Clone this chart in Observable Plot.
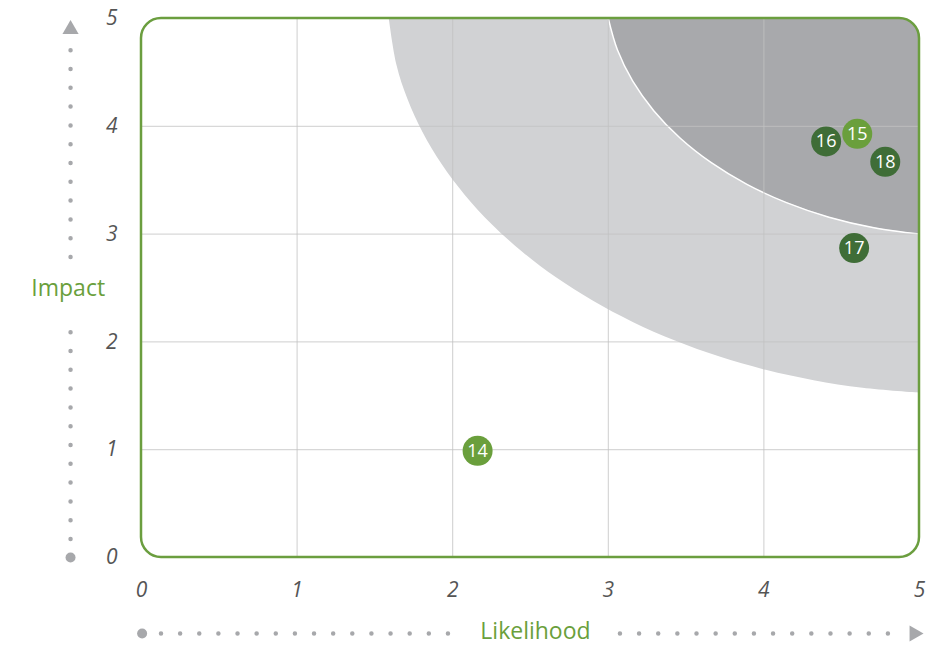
<!DOCTYPE html>
<html>
<head>
<meta charset="utf-8">
<script src="https://cdn.jsdelivr.net/npm/d3@7"></script>
<script src="https://cdn.jsdelivr.net/npm/@observablehq/plot@0.6"></script>
<style>
  html, body { margin: 0; padding: 0; background: #ffffff; }
  #chart { width: 941px; height: 645px; }
</style>
</head>
<body>
<div id="chart"></div>
<script>
// ---- Data ----
const riskIds = ["14", "15", "16", "17", "18"];
const likelihood = [2.16, 4.60, 4.40, 4.58, 4.78];
const impact = [0.99, 3.93, 3.86, 2.87, 3.67];
const tone = ["light", "light", "dark", "dark", "dark"];

// Zone boundaries
const outerZoneX = [1.592, 1.642, 1.712, 1.809, 1.932, 2.081, 2.254, 2.450, 2.667, 2.905, 3.160, 3.432, 3.718, 4.015, 4.323, 4.637, 5.0];
const outerZoneY = [5.0, 4.564, 4.250, 3.942, 3.645, 3.359, 3.087, 2.832, 2.594, 2.377, 2.181, 2.008, 1.859, 1.736, 1.639, 1.569, 1.524];
const innerZoneX = [3.0, 3.059, 3.157, 3.292, 3.461, 3.662, 3.891, 4.145, 4.418, 4.707, 5.0];
const innerZoneY = [5.0, 4.707, 4.418, 4.145, 3.891, 3.662, 3.461, 3.292, 3.157, 3.059, 3.0];

const tickValues = [0, 1, 2, 3, 4, 5];
const gridValues = [1, 2, 3, 4];
const xTitle = "Likelihood";
const yTitle = "Impact";

// ---- Tables built from the arrays ----
const points = riskIds.map((id, i) => ({id, likelihood: likelihood[i], impact: impact[i], tone: tone[i]}));
const outerZone = outerZoneX.map((x, i) => ({x, y: outerZoneY[i]}));
const innerZone = innerZoneX.map((x, i) => ({x, y: innerZoneY[i]}));

const GREEN = "#6a9f3c";
const DARKGREEN = "#3f6d37";
const GREY = "#a7a8ab";
const fmt = d3.format("d");

const plot = Plot.plot({
  width: 941,
  height: 645,
  marginLeft: 141,
  marginRight: 22,
  marginTop: 18,
  marginBottom: 88,
  x: {domain: [0, 5]},
  y: {domain: [0, 5]},
  color: {domain: ["light", "dark"], range: [GREEN, DARKGREEN]},
  style: {fontFamily: "'Open Sans', sans-serif", color: "#4d4d4d", background: "white", overflow: "visible"},
  marks: [
    Plot.areaY(outerZone, {x: "x", y1: "y", y2: 5, fill: "#d1d2d4", curve: "catmull-rom"}),
    Plot.areaY(innerZone, {x: "x", y1: "y", y2: 5, fill: "#a8a9ac", curve: "catmull-rom"}),
    Plot.line(innerZone, {x: "x", y: "y", stroke: "white", strokeWidth: 1.5, curve: "catmull-rom"}),
    Plot.gridX({ticks: gridValues, stroke: "#c2c2c2", strokeOpacity: 0.8, strokeWidth: 1}),
    Plot.gridY({ticks: gridValues, stroke: "#c2c2c2", strokeOpacity: 0.8, strokeWidth: 1}),
    Plot.rect([0], {x1: 0, x2: 5, y1: 0, y2: 5, rx: 20, fill: "none", stroke: "#6b9e3f", strokeWidth: 2.5}),
    Plot.axisX({ticks: tickValues, tickFormat: fmt, tickSize: 0, tickPadding: 25, fontSize: 21, fontStyle: "italic", label: null, fill: "#555555"}),
    Plot.axisY({ticks: tickValues, tickFormat: fmt, tickSize: 0, tickPadding: 24, fontSize: 21, fontStyle: "italic", label: null, fill: "#555555"}),
    // decorative dotted axis arrows
    Plot.ruleX([-0.456], {y1: 2.783, y2: 4.703, stroke: GREY, strokeWidth: 4.5, strokeLinecap: "round", strokeDasharray: "0 18.8"}),
    Plot.ruleX([-0.456], {y1: 0.167, y2: 2.087, stroke: GREY, strokeWidth: 4.5, strokeLinecap: "round", strokeDasharray: "0 18.8"}),
    Plot.ruleY([-0.705], {x1: 0.1285, x2: 1.973, stroke: GREY, strokeWidth: 4.5, strokeLinecap: "round", strokeDasharray: "0 19.13"}),
    Plot.ruleY([-0.705], {x1: 3.078, x2: 4.801, stroke: GREY, strokeWidth: 4.5, strokeLinecap: "round", strokeDasharray: "0 19.14"}),
    Plot.dot([[-0.456, 0], [0.004, -0.705]], {x: d => d[0], y: d => d[1], r: 5, fill: GREY}),
    Plot.dot([[-0.456, 4.90]], {x: d => d[0], y: d => d[1], r: 6, symbol: "triangle", fill: GREY}),
    Plot.dot([[4.966, -0.705]], {x: d => d[0], y: d => d[1], r: 6, symbol: "triangle", rotate: 90, fill: GREY}),
    Plot.text([yTitle], {x: -0.471, y: 2.495, text: d => d, fill: GREEN, fontSize: 23}),
    Plot.text([xTitle], {x: 2.532, y: -0.69, text: d => d, fill: GREEN, fontSize: 23}),
    // risks
    Plot.dot(points, {x: "likelihood", y: "impact", r: 15, fill: "tone"}),
    Plot.text(points, {x: "likelihood", y: "impact", text: "id", fill: "white", fontSize: 18})
  ]
});

document.getElementById("chart").appendChild(plot);

// Clip the zones to the rounded frame
const sx = plot.scale("x"), sy = plot.scale("y");
const svg = d3.select(plot);
const x0 = sx.apply(0), x1 = sx.apply(5), y0 = sy.apply(5), y1 = sy.apply(0);
svg.insert("defs", ":first-child")
  .append("clipPath").attr("id", "roundframe")
  .append("rect")
  .attr("x", x0).attr("y", y0).attr("width", x1 - x0).attr("height", y1 - y0).attr("rx", 20);
svg.selectAll('g[aria-label="area"], g[aria-label="line"]').attr("clip-path", "url(#roundframe)");
</script>
</body>
</html>
